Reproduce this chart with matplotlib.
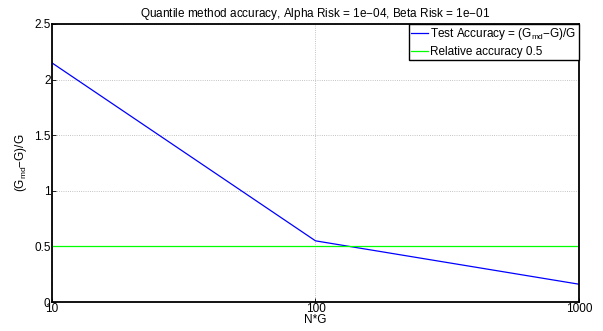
import matplotlib
matplotlib.use('Agg')
import matplotlib.pyplot as plt

n_g = [10, 100, 1000]
accuracy = [2.15, 0.55, 0.16]
rel_level = 0.5

plt.rcParams['font.family'] = 'Liberation Sans'
plt.rcParams['mathtext.default'] = 'regular'
plt.rcParams['font.size'] = 8.5

fig = plt.figure(figsize=(6.03, 3.31), dpi=100)
ax = fig.add_axes([0.0862, 0.0876, 0.874, 0.84])

ax.plot(n_g, accuracy, color='blue', lw=0.9, label='Test Accuracy = (G$_{md}$$-$G)/G')
ax.axhline(rel_level, color='#00ff00', lw=0.9, label='Relative accuracy 0.5')

ax.set_xscale('log')
ax.set_xlim(10, 1000)
ax.set_ylim(0, 2.5)
ax.set_xticks([10, 100, 1000])
ax.set_xticklabels(['10', '100', '1000'])
ax.xaxis.set_minor_locator(matplotlib.ticker.NullLocator())
ax.set_yticks([0, 0.5, 1, 1.5, 2, 2.5])
ax.set_yticklabels(['0', '0.5', '1', '1.5', '2', '2.5'])
ax.tick_params(direction='in', length=3, width=0.6, pad=1, labelsize=8.5)
ax.grid(True, ls=':', color='#b0b0b0', lw=0.6)
for s in ax.spines.values():
    s.set_linewidth(1.3)

ax.set_xlabel('N*G', labelpad=-1)
ax.set_ylabel('(G$_{md}$$-$G)/G', labelpad=4)
ax.set_title('Quantile method accuracy, Alpha Risk = 1e$-$04, Beta Risk = 1e$-$01', fontsize=8.5, pad=5)

leg = ax.legend(loc='upper right', fancybox=False, framealpha=1, edgecolor='black',
                borderpad=0.2, handlelength=1.4, handletextpad=0.2, labelspacing=0.3,
                borderaxespad=0, fontsize=8.5)
leg.get_frame().set_linewidth(1.0)

fig.savefig('out.png', dpi=100)
